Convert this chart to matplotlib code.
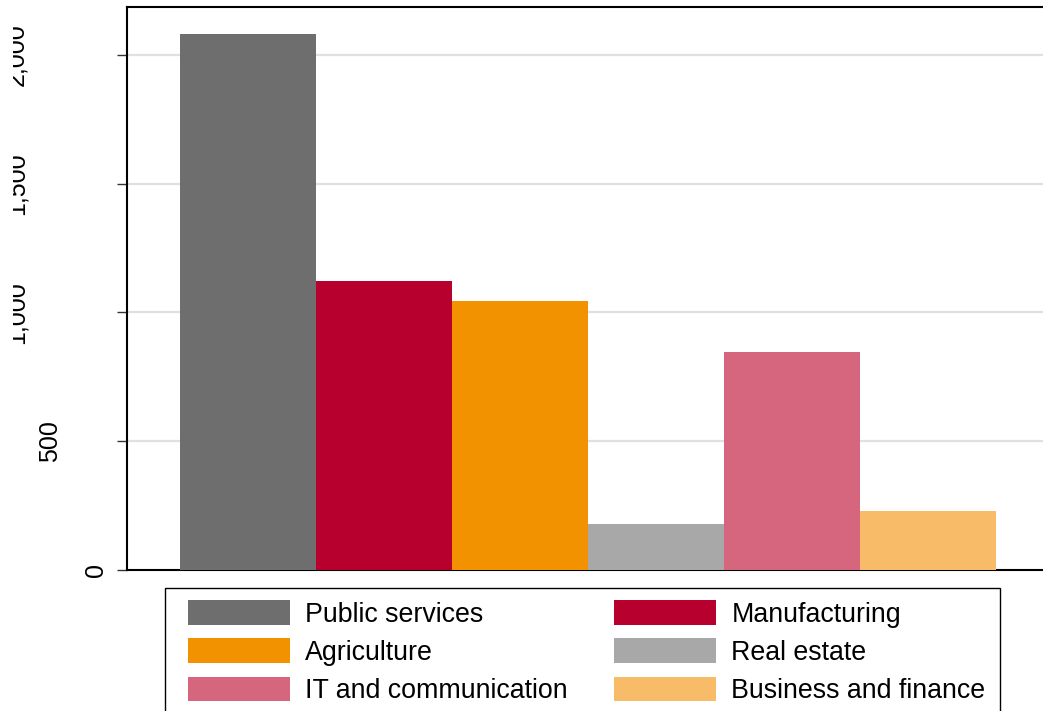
import matplotlib
matplotlib.use("Agg")
import matplotlib.pyplot as plt
import matplotlib.transforms as mtransforms
from matplotlib.patches import Rectangle, Patch

plt.rcParams["font.family"] = ["Liberation Sans", "DejaVu Sans"]

sectors = ["Public services", "Manufacturing", "Agriculture",
           "Real estate", "IT and communication", "Business and finance"]
values = [2080, 1122, 1045, 178, 848, 230]
colors = ["#6e6e6e", "#b8002e", "#f39200", "#a8a8a8", "#d5667d", "#f8bb68"]
yticks = [0, 500, 1000, 1500, 2000]
ytick_labels = ["0", "500", "1,000", "1,500", "2,000"]
# horizontal distance (px) of each rotated label centre from the y axis
label_gap_px = [31.5, 76.5, 110.5, 110.5, 110.5]

W, H, DPI = 1043, 711, 100
fig = plt.figure(figsize=(W / DPI, H / DPI), dpi=DPI)
ax = fig.add_axes([127 / W, (H - 570) / H, (W - 127) / W, (570 - 7) / H])

x = list(range(len(sectors)))
ax.bar(x, values, width=1.0, color=colors, zorder=3)

ax.set_xlim(-0.89, 5.845)
ax.set_ylim(0, 2186)
ax.set_xticks([])
ax.set_yticks(yticks)
ax.tick_params(axis="y", length=7.2, width=1, color="#333333", labelleft=False)
for v in yticks[1:]:
    ax.axhline(v, color="#e0e0e0", lw=1.6, zorder=1)

for side in ["left", "top", "bottom"]:
    ax.spines[side].set_linewidth(1.5)
    ax.spines[side].set_color("black")
ax.spines["right"].set_visible(False)

base = ax.get_yaxis_transform()
for v, lab, gap in zip(yticks, ytick_labels, label_gap_px):
    tr = base + mtransforms.ScaledTranslation(-gap / DPI, 0, fig.dpi_scale_trans)
    ax.text(0, v, lab, transform=tr, rotation=90, ha="center", va="center",
            fontsize=18, color="black")

# reference crops the far-left edge of the long labels
fig.patches.append(Rectangle((0, 0), 13 / W, 1, transform=fig.transFigure,
                             facecolor="white", edgecolor="none", zorder=10))

# legend frame (runs off the bottom of the picture)
fig.patches.append(Rectangle((165 / W, -0.05), (1000 - 165) / W, (H - 588) / H + 0.05,
                             transform=fig.transFigure, facecolor="none",
                             edgecolor="black", lw=1.0, zorder=5))

# row-major order: matplotlib fills legend columns first
order = [0, 2, 4, 1, 3, 5]
handles = [Patch(facecolor=colors[i], edgecolor="none") for i in order]
labels = [sectors[i] for i in order]
fig.legend(handles, labels, loc="upper left",
           bbox_to_anchor=(188 / W, (H - 600) / H), ncol=2,
           frameon=False, fontsize=19.3, borderpad=0, borderaxespad=0,
           handlelength=3.8, handleheight=1.05, handletextpad=0.56,
           labelspacing=0.4, columnspacing=1.75)

fig.savefig("out.png", dpi=DPI)
